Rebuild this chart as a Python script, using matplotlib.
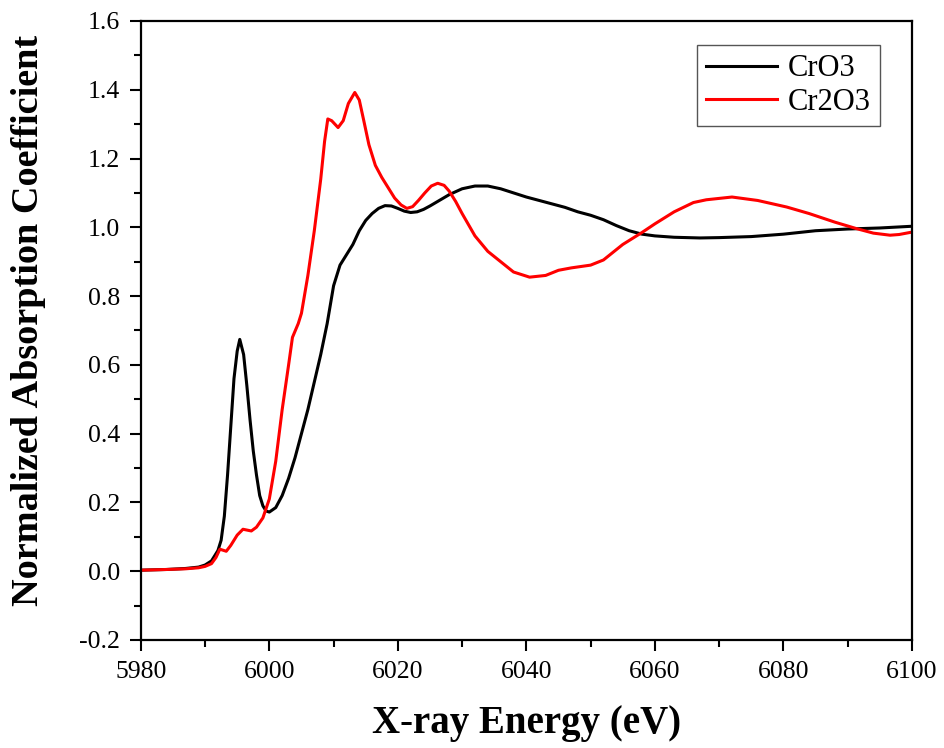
import matplotlib
matplotlib.use("Agg")
from matplotlib import pyplot as plt
from matplotlib.ticker import MultipleLocator

plt.rcParams["font.family"] = ["Liberation Serif", "DejaVu Serif"]

# X-ray energy (eV) and normalized absorption for each reference
energy_cro3 = [5980, 5984, 5987, 5989, 5990, 5991, 5992, 5992.5, 5993, 5993.5, 5994, 5994.5,
               5995, 5995.4, 5996, 5996.5, 5997, 5997.5, 5998, 5998.5, 5999, 5999.5, 6000,
               6001, 6002, 6003, 6004, 6005, 6006, 6007, 6008, 6009, 6010, 6011, 6012, 6013,
               6014, 6015, 6016, 6017, 6018, 6019, 6020, 6021, 6022, 6023, 6024, 6025, 6026,
               6028, 6030, 6032, 6034, 6036, 6038, 6040, 6043, 6046, 6048, 6050, 6052, 6054,
               6056, 6058, 6060, 6063, 6067, 6070, 6075, 6080, 6085, 6090, 6095, 6100]
mu_cro3 = [0.003, 0.005, 0.008, 0.012, 0.018, 0.03, 0.06, 0.09, 0.16, 0.28, 0.42, 0.56,
           0.64, 0.674, 0.63, 0.54, 0.44, 0.35, 0.28, 0.22, 0.19, 0.175, 0.172,
           0.185, 0.22, 0.27, 0.33, 0.40, 0.47, 0.55, 0.63, 0.72, 0.83, 0.89, 0.92, 0.95,
           0.99, 1.02, 1.04, 1.055, 1.063, 1.062, 1.055, 1.047, 1.043, 1.045, 1.052, 1.062, 1.073,
           1.095, 1.112, 1.12, 1.12, 1.112, 1.10, 1.088, 1.073, 1.058, 1.045, 1.035, 1.022, 1.005,
           0.99, 0.98, 0.975, 0.971, 0.969, 0.97, 0.973, 0.98, 0.99, 0.995, 0.998, 1.003]

energy_cr2o3 = [5980, 5984, 5987, 5989, 5990, 5991, 5991.7, 5992.3, 5993.3, 5994, 5995, 5995.9,
                5997.2, 5998, 5999, 6000, 6001, 6002, 6003, 6003.6, 6004.5, 6005, 6006, 6007,
                6008, 6008.6, 6009.1, 6009.7, 6010.7, 6011.5, 6012.3, 6013.3, 6014, 6014.7,
                6015.5, 6016.5, 6017.5, 6018.5, 6019.5, 6020.5, 6021.4, 6022.3, 6023.2, 6024.2,
                6025.2, 6026.2, 6027.2, 6028, 6029, 6030, 6032, 6034, 6036, 6038, 6040.5, 6043,
                6045, 6047, 6050, 6052, 6055, 6058, 6060, 6063, 6066, 6068, 6072, 6076, 6080.5,
                6084, 6088, 6091.4, 6094, 6096.6, 6098, 6100]
mu_cr2o3 = [0.003, 0.005, 0.007, 0.010, 0.014, 0.022, 0.04, 0.064, 0.058, 0.075, 0.105, 0.122,
            0.117, 0.128, 0.155, 0.21, 0.32, 0.47, 0.60, 0.68, 0.72, 0.75, 0.86, 0.99,
            1.14, 1.25, 1.315, 1.31, 1.29, 1.31, 1.36, 1.392, 1.37, 1.31,
            1.24, 1.18, 1.145, 1.115, 1.085, 1.065, 1.055, 1.06, 1.078, 1.10,
            1.12, 1.128, 1.122, 1.105, 1.075, 1.04, 0.975, 0.93, 0.90, 0.87, 0.855, 0.86,
            0.875, 0.882, 0.89, 0.905, 0.95, 0.985, 1.01, 1.045, 1.072, 1.08, 1.088, 1.078, 1.059,
            1.04, 1.015, 0.996, 0.983, 0.977, 0.979, 0.986]

fig = plt.figure(figsize=(9.45, 7.48), dpi=100)
ax = fig.add_axes([0.149, 0.1444, 0.816, 0.8276])

ax.plot(energy_cro3, mu_cro3, color="black", lw=2.2, label="CrO3")
ax.plot(energy_cr2o3, mu_cr2o3, color="#ff0000", lw=2.2, label="Cr2O3")

ax.set_xlim(5980, 6100)
ax.set_ylim(-0.2, 1.6)
ax.xaxis.set_major_locator(MultipleLocator(20))
ax.xaxis.set_minor_locator(MultipleLocator(10))
ax.yaxis.set_major_locator(MultipleLocator(0.2))
ax.yaxis.set_minor_locator(MultipleLocator(0.1))
ax.yaxis.set_major_formatter(plt.FuncFormatter(lambda v, p: f"{v:.1f}"))

ax.tick_params(which="major", direction="out", length=8, width=1.5, labelsize=18.5, pad=7)
ax.tick_params(which="minor", direction="out", length=5, width=1.5)
for s in ax.spines.values():
    s.set_linewidth(1.6)

ax.set_xlabel("X-ray Energy (eV)", fontsize=28, fontweight="bold", labelpad=16)
ax.set_ylabel("Normalized Absorption Coefficient", fontsize=27.5, fontweight="bold")
ax.yaxis.set_label_coords(-0.123, 0.516)

leg = ax.legend(loc="upper right", bbox_to_anchor=(0.958, 0.961), fontsize=22, fancybox=False,
                framealpha=1, edgecolor="#555555", handlelength=2.3, borderpad=0.3,
                labelspacing=0.15, handletextpad=0.35, borderaxespad=0)
leg.get_frame().set_linewidth(1.0)

fig.savefig("out.png", dpi=100)
